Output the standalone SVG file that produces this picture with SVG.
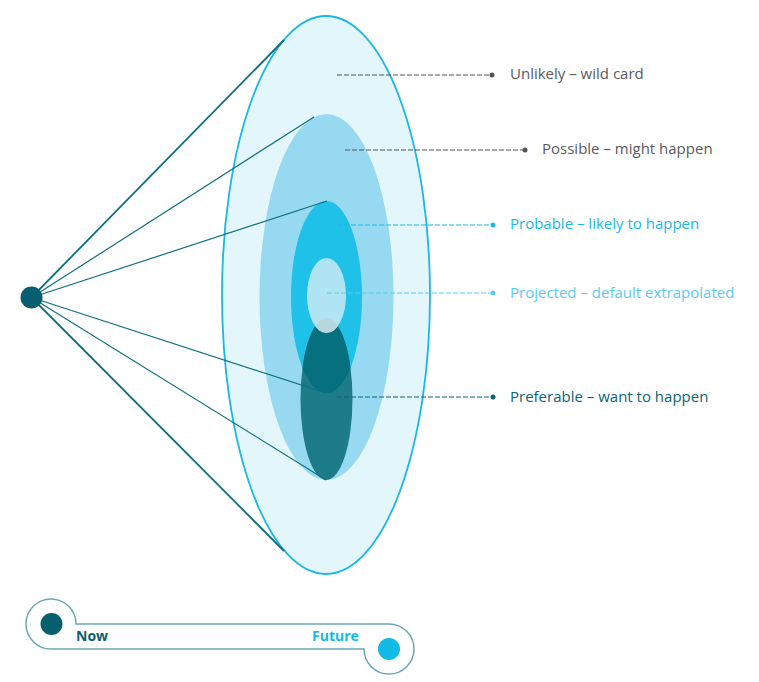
<svg xmlns="http://www.w3.org/2000/svg" width="759" height="682" viewBox="0 0 759 682">
<style>
.lbl{font-family:"Open Sans","Liberation Sans",sans-serif;font-size:15px}
.ray{stroke:#0f6f7f;fill:none}
.lead{fill:none;stroke-width:1;stroke-dasharray:5 2}
.leg{font-family:"Open Sans","Liberation Sans",sans-serif;font-size:14px;font-weight:bold}
</style>
<defs>
<clipPath id="cpProb"><ellipse cx="326.5" cy="297" rx="35.5" ry="96"/></clipPath>
<clipPath id="cpPref"><ellipse cx="326.5" cy="399" rx="26" ry="81"/></clipPath>
</defs>
<rect width="759" height="682" fill="#ffffff"/>
<g id="unlikely"><ellipse cx="326" cy="295" rx="104" ry="279" fill="#e2f6fc" stroke="#1ab8e2" stroke-width="1.8"/></g>
<g id="possible"><ellipse cx="326.5" cy="297" rx="67" ry="183" fill="#97d9f0"/></g>
<g id="probable"><ellipse cx="326.5" cy="297" rx="35.5" ry="96" fill="#1fc1e8"/></g>
<g id="preferable"><ellipse cx="326.5" cy="399" rx="26" ry="81" fill="#1e7b88"/>
<ellipse cx="326.5" cy="399" rx="26" ry="81" fill="#06707f" clip-path="url(#cpProb)"/></g>
<g id="projected"><ellipse cx="326.5" cy="295.5" rx="19.5" ry="37.5" fill="#b0e4f2"/>
<ellipse cx="326.5" cy="295.5" rx="19.5" ry="37.5" fill="#b8d7dc" clip-path="url(#cpPref)"/></g>
<g id="connectors">
<line class="ray" x1="31.5" y1="297.5" x2="284" y2="40" stroke-width="1.8"/>
<line class="ray" x1="31.5" y1="297.5" x2="314" y2="117" stroke-width="1.2"/>
<line class="ray" x1="31.5" y1="297.5" x2="327" y2="201" stroke-width="1.2"/>
<line class="ray" x1="31.5" y1="297.5" x2="326" y2="393" stroke-width="1.2"/>
<line class="ray" x1="31.5" y1="297.5" x2="326" y2="480" stroke-width="1.2"/>
<line class="ray" x1="31.5" y1="297.5" x2="284" y2="551" stroke-width="1.8"/>
<line class="lead" x1="337" y1="75" x2="492" y2="75" stroke="#555555"/>
<circle cx="492" cy="75" r="2.5" fill="#555555"/>
<line class="lead" x1="345" y1="150" x2="525" y2="150" stroke="#555555"/>
<circle cx="525" cy="150" r="2.5" fill="#555555"/>
<line class="lead" x1="337" y1="225" x2="493" y2="225" stroke="#1ab8e2"/>
<circle cx="493" cy="225" r="2.5" fill="#1ab8e2"/>
<line class="lead" x1="327" y1="293" x2="493" y2="293" stroke="#5ccbef" stroke-dasharray="3 1.5"/>
<circle cx="493" cy="293" r="2.5" fill="#5ccbef"/>
<line class="lead" x1="337" y1="397" x2="493" y2="397" stroke="#0b6474"/>
<circle cx="493" cy="397" r="2.5" fill="#0b6474"/>
</g>
<g id="now-dot"><circle cx="31.5" cy="297.5" r="11" fill="#065f6e"/></g>
<g id="labels">
<text class="lbl" x="510" y="79" fill="#5a5a5a">Unlikely – wild card</text>
<text class="lbl" x="542" y="154" fill="#5a5a5a">Possible – might happen</text>
<text class="lbl" x="510" y="229" fill="#1ab8e2">Probable – likely to happen</text>
<text class="lbl" x="510" y="298" fill="#5ccbef">Projected – default extrapolated</text>
<text class="lbl" x="510" y="402" fill="#0b6474">Preferable – want to happen</text>
</g>
<g id="legend">
<path d="M76,624 L389,624 A25,25 0 1 1 364,649 L51,649 A25,25 0 1 1 76,624 Z" fill="#ffffff" stroke="#6aa8b4" stroke-width="1.5"/>
<circle cx="51.5" cy="624" r="11" fill="#065f6e"/>
<circle cx="389" cy="649" r="11" fill="#12bbe6"/>
<text class="leg" x="76" y="641" fill="#0b5f6c">Now</text>
<text class="leg" x="312" y="641" fill="#12bbe6">Future</text>
</g>
</svg>
